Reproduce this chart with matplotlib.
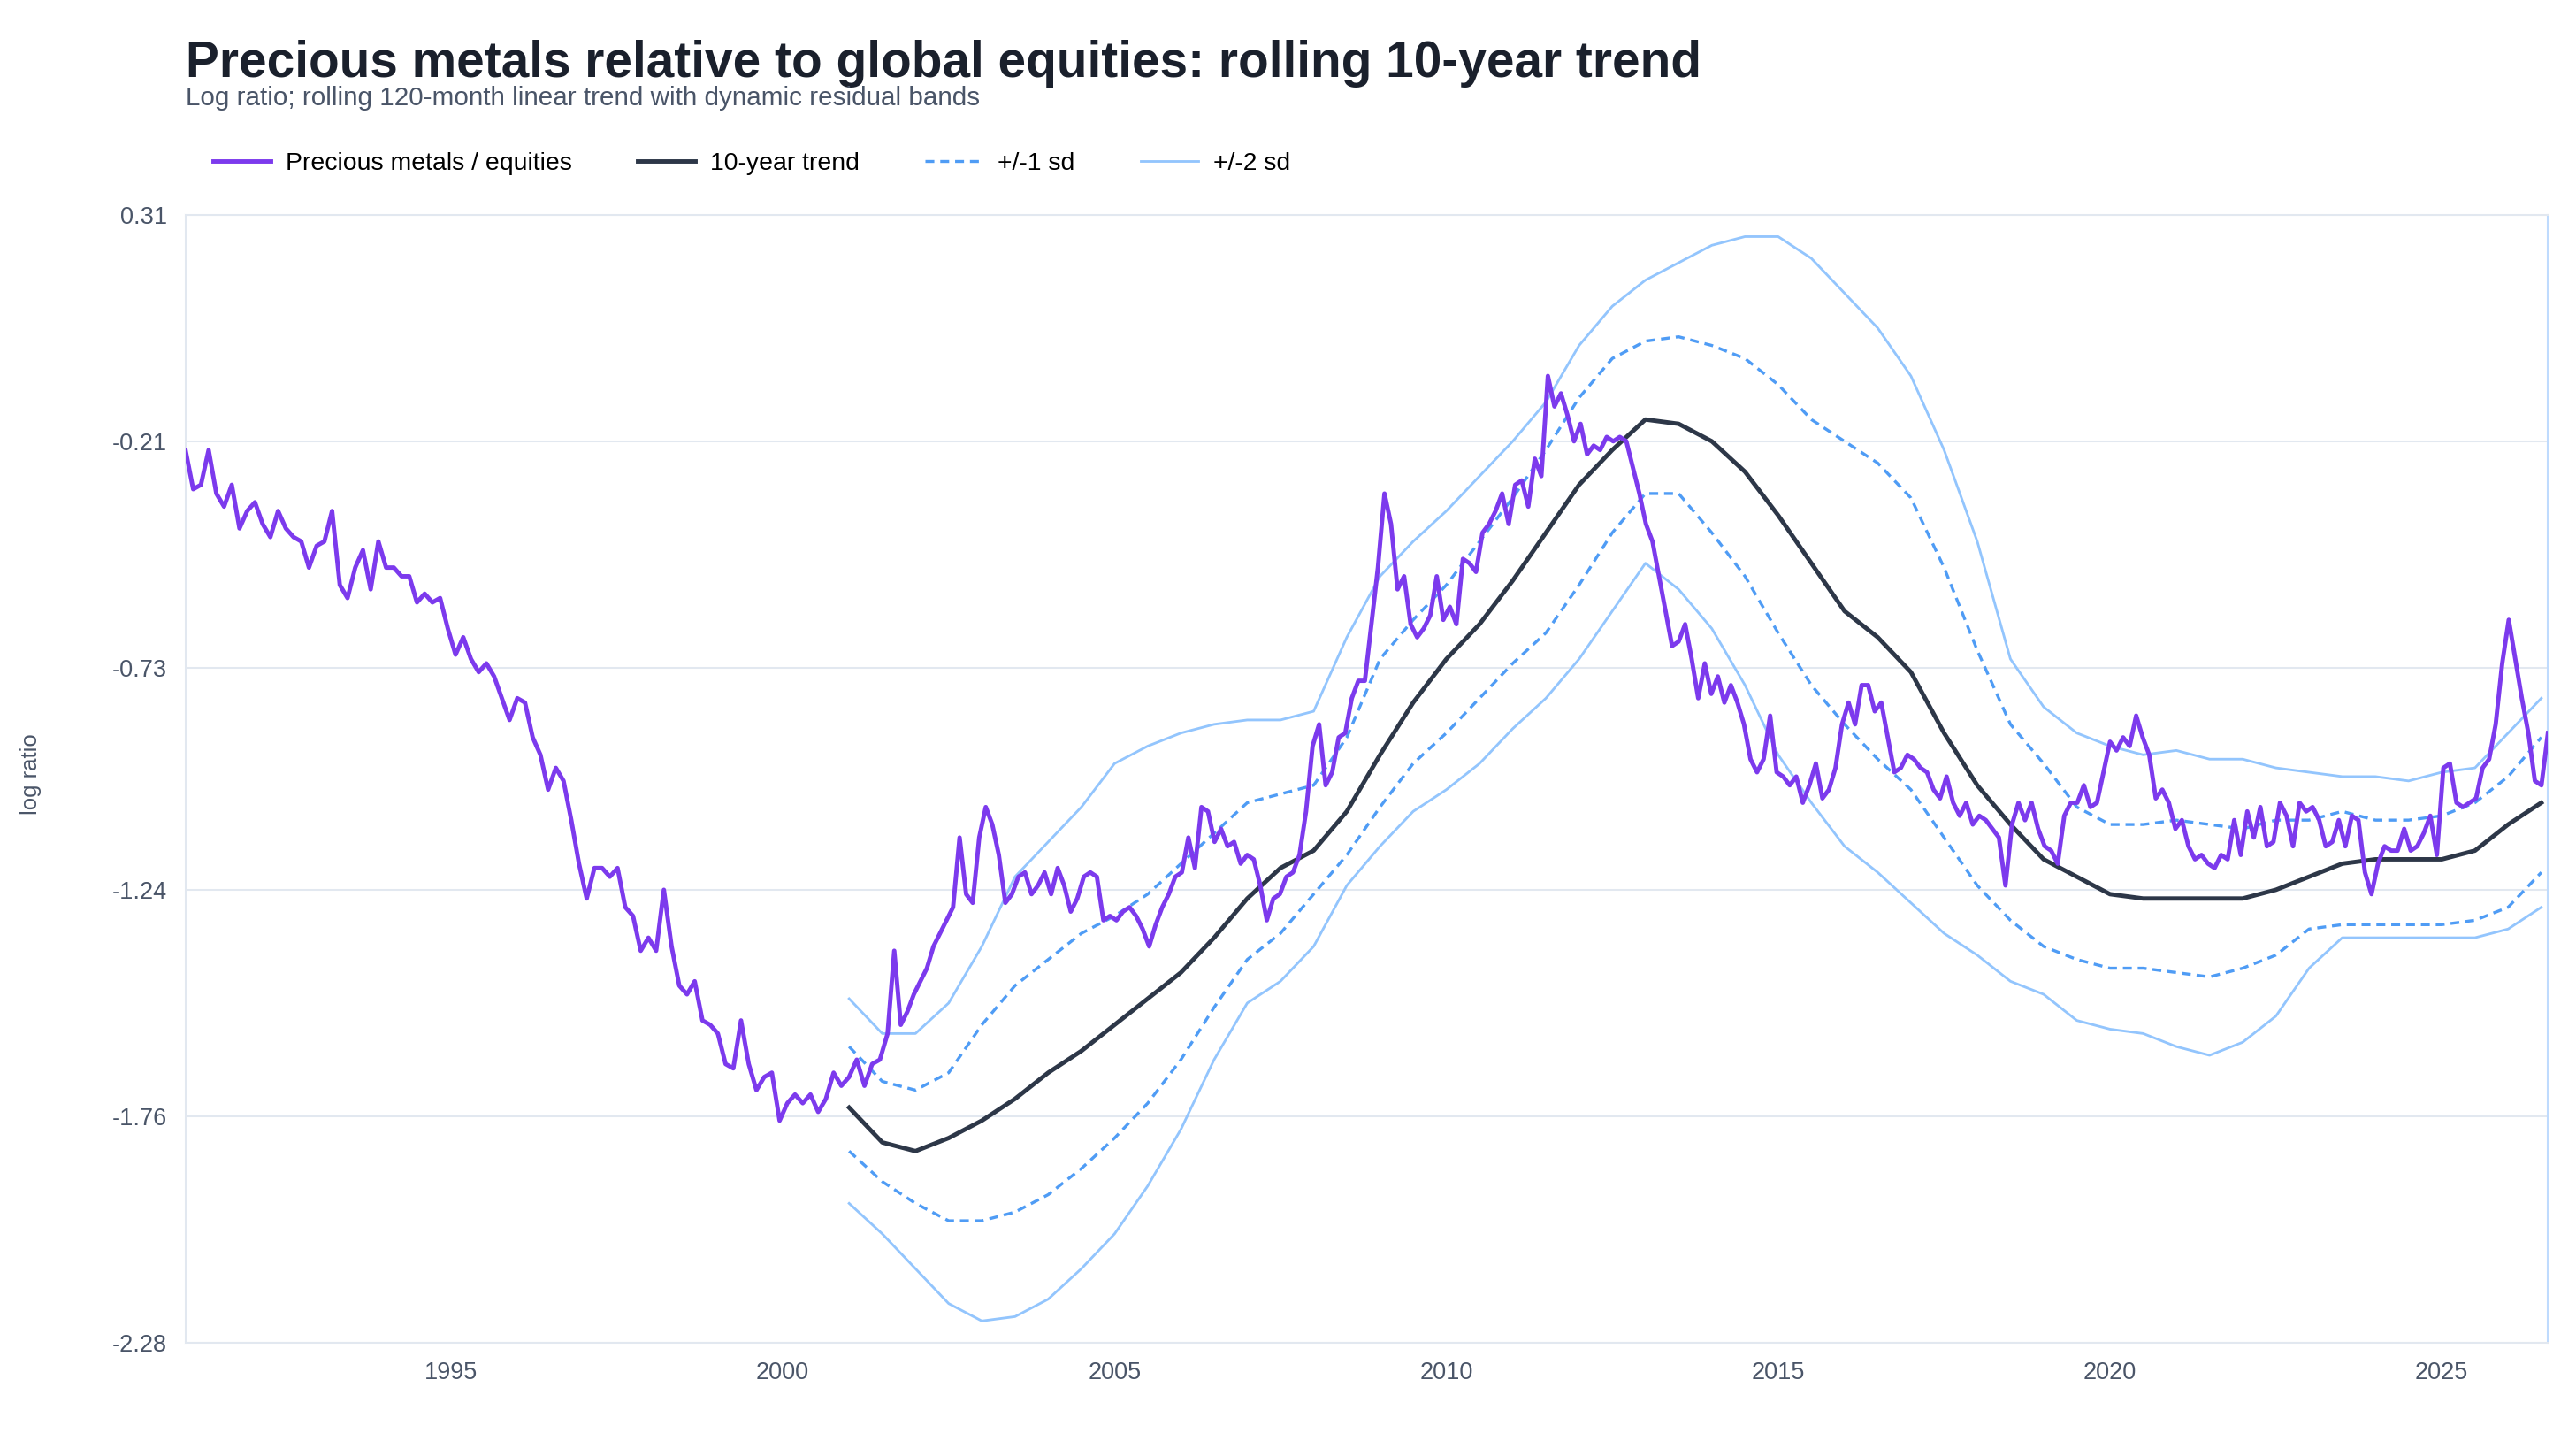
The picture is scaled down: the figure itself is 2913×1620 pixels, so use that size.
import numpy as np
import matplotlib
matplotlib.use("Agg")
import matplotlib.pyplot as plt

# precious metals / equities, log ratio (1991 - mid 2001, then mid 2001 - 2026)
metal_early = [
    -0.23, -0.32, -0.31, -0.23, -0.33, -0.36, -0.31, -0.41, -0.37, -0.35,
    -0.40, -0.43, -0.37, -0.41, -0.43, -0.44, -0.50, -0.45, -0.44, -0.37,
    -0.54, -0.57, -0.50, -0.46, -0.55, -0.44, -0.50, -0.50, -0.52, -0.52,
    -0.58, -0.56, -0.58, -0.57, -0.64, -0.70, -0.66, -0.71, -0.74, -0.72,
    -0.75, -0.80, -0.85, -0.80, -0.81, -0.89, -0.93, -1.01, -0.96, -0.99,
    -1.08, -1.18, -1.26, -1.19, -1.19, -1.21, -1.19, -1.28, -1.30, -1.38,
    -1.35, -1.38, -1.24, -1.37, -1.46, -1.48, -1.45, -1.54, -1.55, -1.57,
    -1.64, -1.65, -1.54, -1.64, -1.70, -1.67, -1.66, -1.77, -1.73, -1.71,
    -1.73, -1.71, -1.75, -1.72, -1.66, -1.69, -1.67, -1.63, -1.69, -1.64,
    -1.63, -1.57,
]
metal_late = [
    -1.38, -1.55, -1.52, -1.48, -1.45, -1.42, -1.37, -1.34, -1.31, -1.28,
    -1.12, -1.25, -1.27, -1.12, -1.05, -1.09, -1.16, -1.27, -1.25, -1.21,
    -1.20, -1.25, -1.23, -1.20, -1.25, -1.19, -1.23, -1.29, -1.26, -1.21,
    -1.20, -1.21, -1.31, -1.30, -1.31, -1.29, -1.28, -1.30, -1.33, -1.37,
    -1.32, -1.28, -1.25, -1.21, -1.20, -1.12, -1.19, -1.05, -1.06, -1.13,
    -1.10, -1.14, -1.13, -1.18, -1.16, -1.17, -1.23, -1.31, -1.26, -1.25,
    -1.21, -1.20, -1.16, -1.06, -0.91, -0.86, -1.00, -0.97, -0.89, -0.88,
    -0.80, -0.76, -0.76, -0.63, -0.50, -0.33, -0.40, -0.55, -0.52, -0.63,
    -0.66, -0.64, -0.61, -0.52, -0.62, -0.59, -0.63, -0.48, -0.49, -0.51,
    -0.42, -0.40, -0.37, -0.33, -0.40, -0.31, -0.30, -0.36, -0.25, -0.29,
    -0.06, -0.13, -0.10, -0.15, -0.21, -0.17, -0.24, -0.22, -0.23, -0.20,
    -0.21, -0.20, -0.21, -0.27, -0.33, -0.40, -0.44, -0.52, -0.60, -0.68,
    -0.67, -0.63, -0.71, -0.80, -0.72, -0.79, -0.75, -0.81, -0.77, -0.81,
    -0.86, -0.94, -0.97, -0.94, -0.84, -0.97, -0.98, -1.00, -0.98, -1.04,
    -1.00, -0.95, -1.03, -1.01, -0.96, -0.86, -0.81, -0.86, -0.77, -0.77,
    -0.83, -0.81, -0.89, -0.97, -0.96, -0.93, -0.94, -0.96, -0.97, -1.01,
    -1.03, -0.98, -1.04, -1.07, -1.04, -1.09, -1.07, -1.08, -1.10, -1.12,
    -1.23, -1.09, -1.04, -1.08, -1.04, -1.10, -1.14, -1.15, -1.18, -1.07,
    -1.04, -1.04, -1.00, -1.05, -1.04, -0.97, -0.90, -0.92, -0.89, -0.91,
    -0.84, -0.89, -0.93, -1.03, -1.01, -1.04, -1.10, -1.08, -1.14, -1.17,
    -1.16, -1.18, -1.19, -1.16, -1.17, -1.08, -1.16, -1.06, -1.12, -1.05,
    -1.14, -1.13, -1.04, -1.07, -1.14, -1.04, -1.06, -1.05, -1.08, -1.14,
    -1.13, -1.08, -1.14, -1.07, -1.08, -1.20, -1.25, -1.18, -1.14, -1.15,
    -1.15, -1.10, -1.15, -1.14, -1.11, -1.07, -1.16, -0.96, -0.95, -1.04,
    -1.05, -1.04, -1.03, -0.96, -0.94, -0.86, -0.72, -0.62, -0.71, -0.80,
    -0.88, -0.99, -1.00, -0.88,
]

band_years = np.arange(2001.0, 2026.51, 0.5)
trend = [
    -1.74, -1.82, -1.84, -1.81, -1.77, -1.72, -1.66, -1.61, -1.55, -1.49,
    -1.43, -1.35, -1.26, -1.19, -1.15, -1.06, -0.93, -0.81, -0.71, -0.63,
    -0.53, -0.42, -0.31, -0.23, -0.16, -0.17, -0.21, -0.28, -0.38, -0.49,
    -0.60, -0.66, -0.74, -0.88, -1.00, -1.09, -1.17, -1.21, -1.25, -1.26,
    -1.26, -1.26, -1.26, -1.24, -1.21, -1.18, -1.17, -1.17, -1.17, -1.15,
    -1.09, -1.04,
]
upper1 = [
    -1.60, -1.68, -1.70, -1.66, -1.55, -1.46, -1.40, -1.34, -1.30, -1.25,
    -1.18, -1.11, -1.04, -1.02, -1.00, -0.89, -0.71, -0.62, -0.54, -0.44,
    -0.34, -0.23, -0.11, -0.02, 0.02, 0.03, 0.01, -0.02, -0.08, -0.16,
    -0.21, -0.26, -0.34, -0.50, -0.69, -0.86, -0.95, -1.05, -1.09, -1.09,
    -1.08, -1.09, -1.10, -1.08, -1.08, -1.06, -1.08, -1.08, -1.07, -1.04,
    -0.98, -0.89,
]
lower1 = [
    -1.84, -1.91, -1.96, -2.00, -2.00, -1.98, -1.94, -1.88, -1.81, -1.73,
    -1.63, -1.51, -1.40, -1.34, -1.25, -1.16, -1.05, -0.95, -0.88, -0.80,
    -0.72, -0.65, -0.54, -0.42, -0.33, -0.33, -0.42, -0.52, -0.65, -0.77,
    -0.86, -0.94, -1.01, -1.12, -1.23, -1.31, -1.37, -1.40, -1.42, -1.42,
    -1.43, -1.44, -1.42, -1.39, -1.33, -1.32, -1.32, -1.32, -1.32, -1.31,
    -1.28, -1.20,
]
upper2 = [
    -1.49, -1.57, -1.57, -1.50, -1.37, -1.21, -1.13, -1.05, -0.95, -0.91,
    -0.88, -0.86, -0.85, -0.85, -0.83, -0.66, -0.52, -0.44, -0.37, -0.29,
    -0.21, -0.12, 0.01, 0.10, 0.16, 0.20, 0.24, 0.26, 0.26, 0.21,
    0.13, 0.05, -0.06, -0.23, -0.44, -0.71, -0.82, -0.88, -0.91, -0.93,
    -0.92, -0.94, -0.94, -0.96, -0.97, -0.98, -0.98, -0.99, -0.97, -0.96,
    -0.88, -0.80,
]
lower2 = [
    -1.96, -2.03, -2.11, -2.19, -2.23, -2.22, -2.18, -2.11, -2.03, -1.92,
    -1.79, -1.63, -1.50, -1.45, -1.37, -1.23, -1.14, -1.06, -1.01, -0.95,
    -0.87, -0.80, -0.71, -0.60, -0.49, -0.55, -0.64, -0.77, -0.93, -1.04,
    -1.14, -1.20, -1.27, -1.34, -1.39, -1.45, -1.48, -1.54, -1.56, -1.57,
    -1.60, -1.62, -1.59, -1.53, -1.42, -1.35, -1.35, -1.35, -1.35, -1.35,
    -1.33, -1.28,
]

y_ticks = [-2.28, -1.76, -1.24, -0.73, -0.21, 0.31]
x_ticks = [1995, 2000, 2005, 2010, 2015, 2020, 2025]

years_early = np.linspace(1991.0, 2001.58, len(metal_early))
years_late = np.linspace(2001.68, 2026.6, len(metal_late))
metal_years = np.concatenate([years_early, years_late])
metal = metal_early + metal_late

plt.rcParams['font.family'] = ['Liberation Sans', 'DejaVu Sans']

fig = plt.figure(figsize=(15.68, 8.72), dpi=185.8)
ax = fig.add_axes([0.072, 0.063, 0.917, 0.787])

ax.plot(band_years, upper2, color="#93c5fd", lw=1.1, label="+/-2 sd", zorder=2)
ax.plot(band_years, lower2, color="#93c5fd", lw=1.1, zorder=2)
ax.plot(band_years, upper1, color="#4f9cf5", lw=1.3, ls=(0, (3, 2)), label="+/-1 sd", zorder=2)
ax.plot(band_years, lower1, color="#4f9cf5", lw=1.3, ls=(0, (3, 2)), zorder=2)
ax.plot(band_years, trend, color="#2d3748", lw=1.9, label="10-year trend", zorder=3)
ax.plot(metal_years, metal, color="#7c3aed", lw=1.9, label="Precious metals / equities", zorder=4)

ax.set_xlim(1991.0, 2026.6)
ax.set_ylim(-2.28, 0.31)
ax.set_yticks(y_ticks)
ax.set_yticklabels([f"{v:.2f}" for v in y_ticks])
ax.set_xticks(x_ticks)
ax.tick_params(length=0, labelsize=10.5, labelcolor="#4a5568", pad=8)
ax.grid(axis="y", color="#e2e8f0", lw=0.8)
ax.set_axisbelow(True)
for side, sp in ax.spines.items():
    sp.set_color("#e2e8f0")
ax.spines["right"].set_color("#bfdbfe")

fig.text(0.008, 0.46, "log ratio", rotation=90, fontsize=10, color="#4a5568", va="center")
fig.text(0.072, 0.972, "Precious metals relative to global equities: rolling 10-year trend",
         fontsize=22, fontweight="bold", color="#1a202c", va="top")
fig.text(0.072, 0.940, "Log ratio; rolling 120-month linear trend with dynamic residual bands",
         fontsize=11.5, color="#4a5568", va="top")

handles, labels = ax.get_legend_handles_labels()
order = [3, 2, 1, 0]
fig.legend([handles[i] for i in order], [labels[i] for i in order], loc="center left",
           bbox_to_anchor=(0.074, 0.886), ncol=4, frameon=False, fontsize=11,
           handlelength=2.3, columnspacing=2.6, handletextpad=0.6)

fig.savefig("out.png", dpi=185.8)
